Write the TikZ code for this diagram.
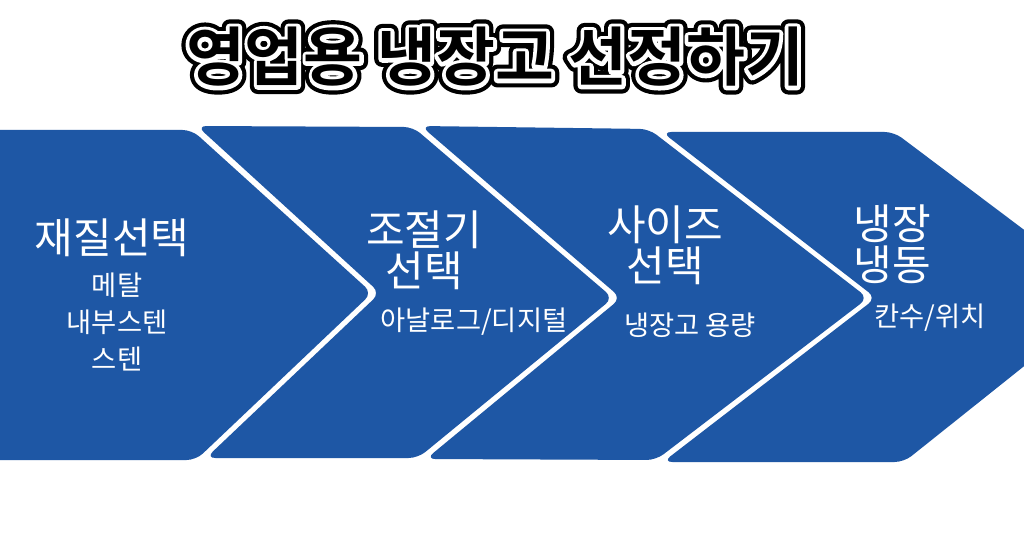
\documentclass[tikz,border=0pt]{standalone}
\usepackage{fontspec}
\newfontfamily\krfont{Noto Sans CJK KR}
\newfontfamily\ttlbase{Noto Sans CJK KR Bold}
\newfontfamily\ttlouter[FakeBold=25]{Noto Sans CJK KR Bold}
\newfontfamily\ttlinner[FakeBold=12]{Noto Sans CJK KR Bold}
\definecolor{chevblue}{RGB}{30,87,165}
\newcommand\ttltext{영업용 냉장고 선정하기}
\newcommand\roundjoin{\special{pdf:literal direct 1 j 1 J}}
\tikzset{
  chev/.style={fill=chevblue, draw=none, rounded corners=7},
  ttl/.style={inner sep=0pt},
  bigtxt/.style={inner sep=0pt, text=white, align=center, font=\krfont\fontsize{31.5}{30.75}\selectfont},
  smalltxt/.style={inner sep=0pt, text=white, align=center, font=\krfont\fontsize{20.5}{27.75}\selectfont}
}
\begin{document}
\begin{tikzpicture}[x=0.75pt, y=-0.75pt]
\useasboundingbox (0,0) rectangle (1024,538);
\fill[white] (0,0) rectangle (1024,538);
\begin{scope}
\clip (0,0) rectangle (1024,538);
% chevrons
\fill[chev] (-20,130) -- (192,130) -- (372,293) -- (196,460) -- (-20,460) -- cycle;
\fill[chev] (197,126) -- (413,127) -- (613,298) -- (418,458) -- (206,458) -- (380,293) -- cycle;
\fill[chev] (421,126) -- (649,129) -- (868,298) -- (656,460) -- (426,459) -- (621,298) -- cycle;
\fill[chev] (662,132) -- (894,132) -- (1112,296) -- (904,462) -- (663,462) -- (876,298) -- cycle;
\end{scope}
% title with double outline (stroked text layers)
\node[ttl,text=black,font=\ttlouter\fontsize{48}{56}\selectfont] (ttlout) at (495,57) {\roundjoin\ttltext};
\node[ttl,text=white,font=\ttlinner\fontsize{48}{56}\selectfont] (ttlin) at (495,57) {\roundjoin\ttltext};
\node[ttl,text=black,font=\ttlbase\fontsize{48}{56}\selectfont] (title) at (495,57) {\ttltext};
% chevron texts
\node[bigtxt] (t1) at (112,238) {재질선택};
\node[smalltxt] (s1) at (117,322) {메탈\\내부스텐\\스텐};
\node[bigtxt] (t2) at (424,250) {조절기\\선택};
\node[smalltxt] (s2) at (474,322) {아날로그/디지털};
\node[bigtxt] (t3) at (665,245) {사이즈\\선택};
\node[smalltxt] (s3) at (690,325) {냉장고 용량};
\node[bigtxt] (t4) at (892,244) {냉장\\냉동};
\node[smalltxt] (s4) at (930,318) {칸수/위치};
\end{tikzpicture}
\end{document}
